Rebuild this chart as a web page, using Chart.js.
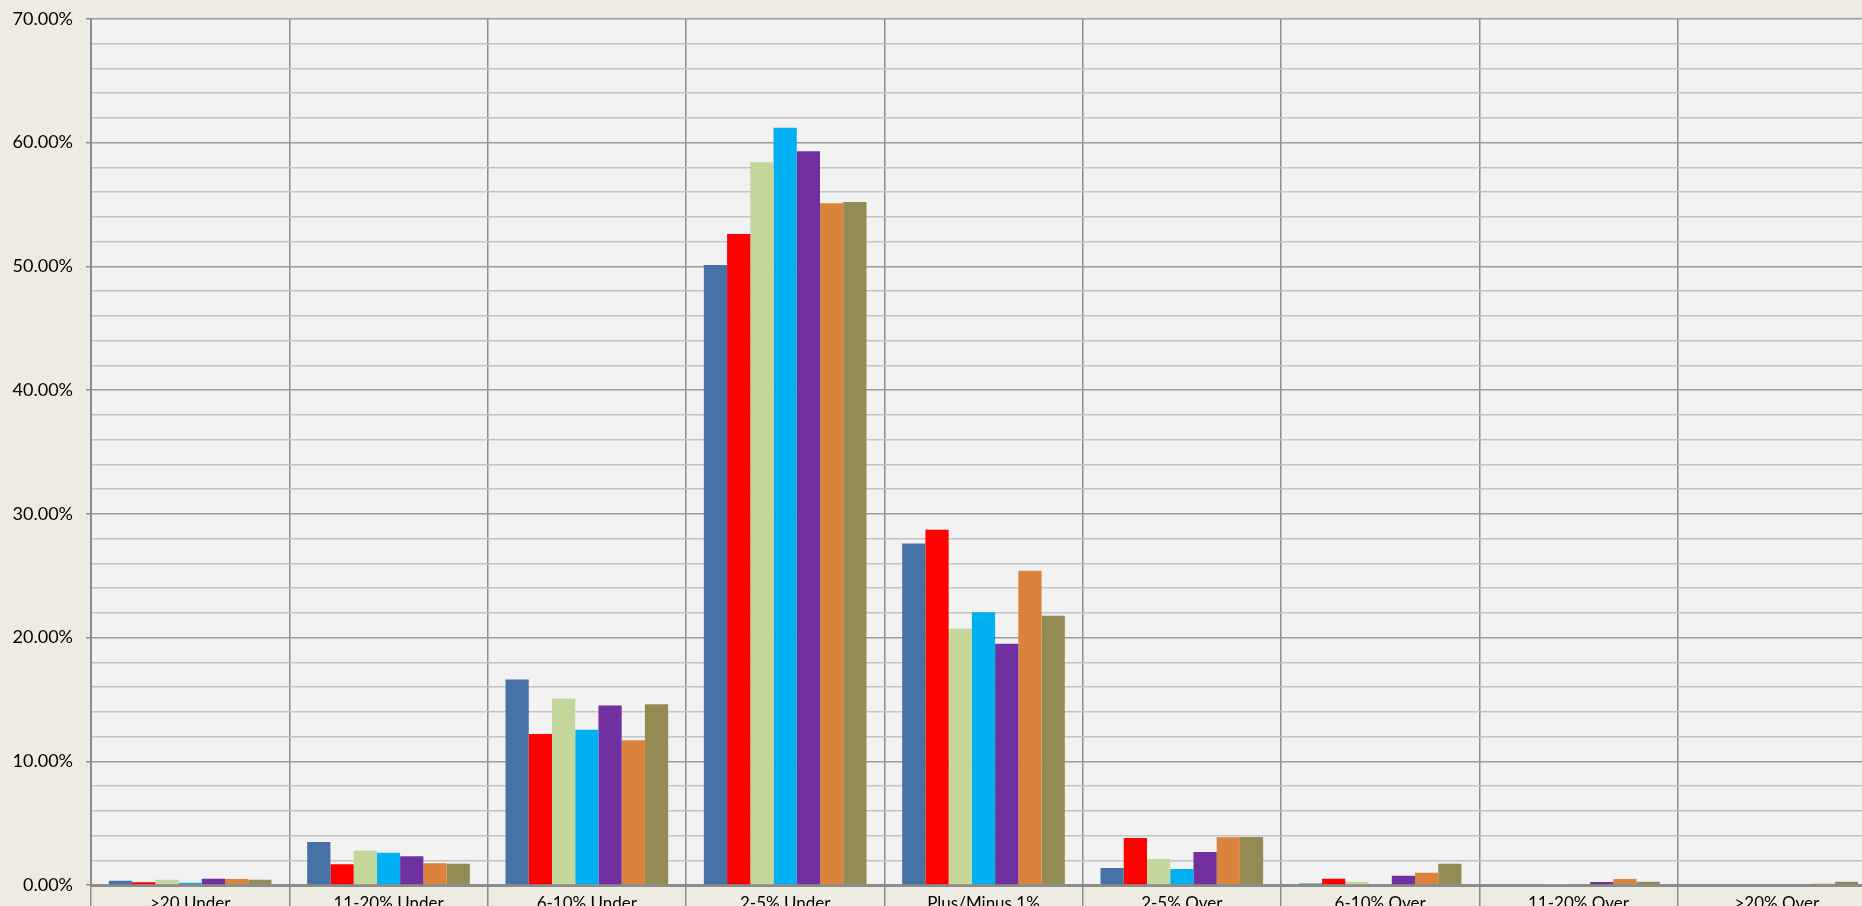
<!DOCTYPE html>
<html>
<head>
<meta charset="utf-8">
<script src="https://cdn.jsdelivr.net/npm/chart.js@4/dist/chart.umd.min.js"></script>
<style>
  html, body { margin: 0; padding: 0; overflow: hidden; background: #EEEBE0; }
  #wrap { position: absolute; left: 0; top: -5px; width: 1876px; height: 935px; }
</style>
</head>
<body>
<div id="wrap"><canvas id="chart"></canvas></div>
<script>
const categories = [">20 Under", "11-20% Under", "6-10% Under", "2-5% Under", "Plus/Minus 1%",
    "2-5% Over", "6-10% Over", "11-20% Over", ">20% Over"];

// percentages per series, one value per category
const seriesA = [0.35, 3.47, 16.6, 50.1, 27.6, 1.37, 0.13, 0, 0];
const seriesB = [0.22, 1.67, 12.2, 52.6, 28.7, 3.8, 0.51, 0, 0];
const seriesC = [0.43, 2.77, 15.05, 58.4, 20.7, 2.1, 0.27, 0.05, 0];
const seriesD = [0.19, 2.61, 12.55, 61.2, 22.05, 1.29, 0, 0, 0];
const seriesE = [0.51, 2.32, 14.5, 59.3, 19.5, 2.67, 0.75, 0.24, 0];
const seriesF = [0.48, 1.75, 11.7, 55.1, 25.4, 3.85, 1.0, 0.48, 0.1];
const seriesG = [0.43, 1.72, 14.6, 55.2, 21.75, 3.88, 1.72, 0.27, 0.27];

const colors = ["#4672A8", "#FF0000", "#C4D79B", "#00B0F0", "#7030A0", "#DB823D", "#948A54"];

const plotBg = {
    id: "plotBg",
    beforeDraw(chart) {
        const { ctx, chartArea: a } = chart;
        ctx.save();
        ctx.fillStyle = "#F2F2F2";
        ctx.fillRect(a.left, a.top, a.right - a.left, a.bottom - a.top);
        ctx.restore();
    }
};

const family = "Lato, 'Open Sans', sans-serif";

new Chart(document.getElementById("chart").getContext("2d"), {
    type: "bar",
    data: {
        labels: categories,
        datasets: [seriesA, seriesB, seriesC, seriesD, seriesE, seriesF, seriesG].map((d, i) => ({
            label: "S" + (i + 1),
            data: d,
            backgroundColor: colors[i],
            borderWidth: 0,
            categoryPercentage: 0.82,
            barPercentage: 1.0
        }))
    },
    options: {
        responsive: true,
        maintainAspectRatio: false,
        animation: false,
        layout: { padding: { top: 13, right: 0, left: 0, bottom: 0 } },
        plugins: { legend: { display: false }, tooltip: { enabled: false } },
        scales: {
            x: {
                grid: {
                    offset: true,
                    color: "#8C8C8C",
                    lineWidth: 1.5,
                    tickLength: 40,
                    drawOnChartArea: true
                },
                border: { color: "#8C8C8C", width: 3 },
                ticks: { color: "#000", font: { family, size: 17 }, padding: -32, maxRotation: 0 },
                afterFit(s) { s.height = 45; }
            },
            y: {
                min: 0,
                max: 70,
                ticks: {
                    stepSize: 2,
                    color: "#000",
                    font: { family, size: 18 },
                    padding: 13,
                    callback: v => (v % 10 === 0 ? v.toFixed(2) + "%" : "")
                },
                grid: {
                    color: c => (c.tick && c.tick.value % 10 === 0 ? "#9A9A9A" : "#C4C4C4"),
                    lineWidth: 1.5,
                    tickLength: 5,
                    tickColor: c => (c.tick && c.tick.value % 10 === 0 ? "#8C8C8C" : "rgba(0,0,0,0)")
                },
                border: { color: "#8C8C8C", width: 2 },
                afterFit(s) { s.width = 91; }
            }
        }
    },
    plugins: [plotBg]
});
</script>
</body>
</html>
